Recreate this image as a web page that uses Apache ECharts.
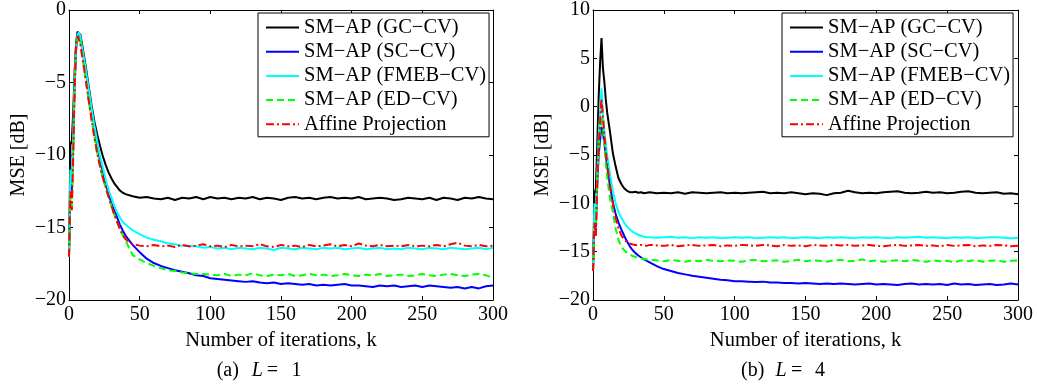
<!DOCTYPE html>
<html><head><meta charset="utf-8">
<script src="https://cdn.jsdelivr.net/npm/echarts@6/dist/echarts.min.js"></script>
<style>html,body{margin:0;padding:0;background:#fff}#c{width:1037px;height:387px}</style>
</head><body><div id="c"></div>
<script>
// iteration indices
var K = [0,1,2,3,4,5,6,7,8,9,10,
  12,14,16,18,20,22,24,26,28,30,32,34,36,38,40,
  45,50,55,60,65,70,75,80,85,90,95,100,105,
  110,115,120,125,130,135,140,145,150,155,160,165,170,
  175,180,185,190,195,200,205,210,215,220,225,230,235,
  240,245,250,255,260,265,270,275,280,285,290,295,300];
var seriesNames = ['SM\u2212AP (GC\u2212CV)','SM\u2212AP (SC\u2212CV)','SM\u2212AP (FMEB\u2212CV)','SM\u2212AP (ED\u2212CV)','Affine Projection'];
var xTicks = [0,50,100,150,200,250,300];
var yTicksL1 = [-20,-15,-10,-5,0];
var yTicksL4 = [-20,-15,-10,-5,0,5,10];

// (a) L = 1
var L1_GC = [-17.0,-9.3,-9.0,-7.0,-4.2,-2.3,-1.5,-1.4,-1.7,-2.2,-2.8,
  -4.0,-5.3,-6.6,-7.7,-8.6,-9.4,-10.1,-10.7,-11.2,-11.6,-11.95,-12.2,-12.45,-12.6,-12.7,
  -12.85,-12.95,-12.9,-13.0,-13.05,-12.95,-13.1,-12.95,-13.0,-12.9,-13.05,-12.9,-13.0,
  -12.95,-13.05,-12.95,-13.0,-12.9,-13.05,-12.95,-13.0,-13.1,-12.95,-12.9,-13.0,-12.95,
  -13.05,-12.95,-12.9,-13.0,-12.95,-13.0,-12.9,-13.05,-13.0,-12.95,-13.0,-13.1,-13.05,
  -12.95,-13.0,-13.05,-12.95,-13.1,-12.95,-13.0,-13.1,-12.95,-13.0,-12.9,-13.0,-13.05];
var L1_SC = [-17.0,-12.0,-12.5,-9.0,-5.0,-2.8,-1.8,-1.6,-1.9,-2.5,-3.1,
  -4.3,-5.6,-6.9,-8.1,-9.3,-10.4,-11.2,-12.0,-12.7,-13.3,-13.8,-14.3,-14.8,-15.2,-15.55,
  -16.2,-16.7,-17.15,-17.45,-17.65,-17.8,-17.95,-18.05,-18.15,-18.3,-18.35,-18.5,-18.55,
  -18.6,-18.65,-18.7,-18.75,-18.7,-18.8,-18.85,-18.8,-18.9,-18.85,-18.9,-18.95,-18.9,
  -19.0,-18.95,-19.0,-18.95,-18.9,-19.0,-19.0,-19.05,-19.1,-19.0,-19.05,-19.0,-19.1,
  -19.05,-19.0,-19.1,-19.0,-19.05,-19.1,-19.15,-19.1,-19.2,-19.1,-19.2,-19.05,-19.0];
var L1_FMEB = [-17.0,-11.0,-12.0,-8.5,-4.8,-2.6,-1.7,-1.55,-1.8,-2.4,-3.0,
  -4.2,-5.5,-6.8,-8.0,-9.1,-10.1,-10.9,-11.7,-12.4,-12.95,-13.5,-13.95,-14.3,-14.6,-14.8,
  -15.2,-15.45,-15.7,-15.85,-15.95,-16.1,-16.15,-16.25,-16.3,-16.3,-16.4,-16.35,-16.45,
  -16.4,-16.5,-16.4,-16.45,-16.5,-16.4,-16.45,-16.55,-16.4,-16.45,-16.5,-16.4,-16.45,
  -16.5,-16.4,-16.45,-16.4,-16.5,-16.45,-16.4,-16.5,-16.45,-16.4,-16.5,-16.45,-16.5,
  -16.4,-16.45,-16.5,-16.4,-16.45,-16.5,-16.4,-16.45,-16.5,-16.45,-16.4,-16.5,-16.4];
var L1_ED = [-17.0,-12.5,-13.5,-9.8,-5.3,-2.6,-1.8,-1.75,-2.2,-2.9,-3.6,
  -4.9,-6.3,-7.6,-8.8,-9.9,-10.8,-11.6,-12.3,-12.9,-13.5,-14.1,-14.6,-15.1,-15.5,-15.9,
  -16.9,-17.2,-17.45,-17.65,-17.8,-17.95,-18.0,-18.1,-18.15,-18.2,-18.2,-18.25,-18.3,
  -18.2,-18.35,-18.25,-18.3,-18.15,-18.3,-18.35,-18.25,-18.3,-18.2,-18.35,-18.3,-18.2,
  -18.3,-18.25,-18.35,-18.3,-18.2,-18.3,-18.35,-18.25,-18.3,-18.2,-18.35,-18.3,-18.25,
  -18.35,-18.3,-18.2,-18.3,-18.35,-18.25,-18.2,-18.3,-18.35,-18.25,-18.2,-18.3,-18.45];
var L1_AP = [-17.0,-12.5,-13.8,-10.0,-5.5,-2.5,-1.8,-1.8,-2.3,-3.0,-3.6,
  -4.9,-6.3,-7.6,-8.8,-9.9,-10.8,-11.6,-12.2,-12.9,-13.5,-14.1,-14.6,-15.1,-15.5,-15.8,
  -16.15,-16.25,-16.3,-16.2,-16.3,-16.25,-16.35,-16.2,-16.3,-16.25,-16.15,-16.3,-16.25,
  -16.35,-16.2,-16.3,-16.25,-16.3,-16.15,-16.3,-16.35,-16.2,-16.3,-16.25,-16.35,-16.2,
  -16.3,-16.25,-16.15,-16.3,-16.2,-16.3,-16.1,-16.25,-16.3,-16.2,-16.3,-16.25,-16.3,
  -16.2,-16.3,-16.25,-16.3,-16.2,-16.3,-16.15,-16.05,-16.25,-16.3,-16.2,-16.3,-16.25];

// (b) L = 4
var L4_GC = [-17.0,-9.0,-8.5,-4.0,1.0,4.5,7.1,4.0,2.6,0.8,-0.6,
  -2.6,-4.8,-6.2,-7.4,-8.0,-8.45,-8.7,-8.85,-8.85,-8.8,-8.9,-8.85,-8.95,-8.9,-8.85,
  -8.95,-8.9,-8.95,-8.85,-9.0,-8.85,-8.9,-8.95,-8.9,-8.85,-8.95,-8.9,-8.95,
  -8.9,-8.85,-8.8,-8.95,-8.9,-8.95,-8.85,-8.95,-9.05,-8.95,-9.0,-9.15,-8.95,
  -8.9,-8.7,-8.85,-8.95,-8.9,-8.95,-8.85,-8.8,-8.75,-8.9,-8.95,-8.9,-8.8,
  -8.9,-8.85,-8.95,-8.9,-8.8,-8.75,-8.9,-8.95,-8.9,-8.85,-9.0,-8.95,-9.05];
var L4_SC = [-17.0,-11.0,-12.5,-8.0,-5.0,-3.5,-2.1,-2.6,-3.8,-5.0,-6.2,
  -8.2,-9.9,-11.1,-12.0,-12.7,-13.35,-13.95,-14.45,-14.85,-15.15,-15.4,-15.6,-15.8,-15.95,-16.1,
  -16.5,-16.8,-17.0,-17.2,-17.35,-17.5,-17.6,-17.7,-17.8,-17.9,-17.95,-18.05,-18.05,
  -18.1,-18.15,-18.1,-18.2,-18.2,-18.25,-18.25,-18.3,-18.25,-18.3,-18.35,-18.3,-18.35,
  -18.3,-18.35,-18.4,-18.35,-18.3,-18.4,-18.35,-18.4,-18.45,-18.35,-18.3,-18.4,-18.35,
  -18.4,-18.35,-18.45,-18.3,-18.4,-18.35,-18.45,-18.4,-18.35,-18.45,-18.4,-18.3,-18.4];
var L4_FMEB = [-17.0,-10.0,-12.0,-7.0,-3.0,-0.5,1.9,-1.0,-2.5,-3.8,-5.0,
  -7.0,-8.7,-10.0,-10.9,-11.5,-12.0,-12.4,-12.7,-12.95,-13.1,-13.25,-13.35,-13.45,-13.5,-13.5,
  -13.55,-13.5,-13.45,-13.55,-13.5,-13.6,-13.5,-13.55,-13.5,-13.6,-13.55,-13.5,-13.55,
  -13.5,-13.6,-13.55,-13.5,-13.55,-13.5,-13.6,-13.55,-13.5,-13.55,-13.6,-13.5,-13.55,
  -13.5,-13.55,-13.6,-13.5,-13.55,-13.5,-13.55,-13.6,-13.5,-13.55,-13.5,-13.45,-13.55,
  -13.5,-13.55,-13.6,-13.5,-13.55,-13.5,-13.6,-13.55,-13.5,-13.5,-13.55,-13.6,-13.55];
var L4_ED = [-17.0,-12.0,-13.0,-8.0,-4.5,-2.5,-1.0,-2.0,-4.0,-5.8,-7.3,
  -9.5,-10.9,-12.6,-13.8,-14.5,-14.85,-15.1,-15.3,-15.45,-15.55,-15.65,-15.7,-15.75,-15.8,-15.85,
  -15.9,-16.0,-15.85,-15.95,-16.05,-15.9,-16.0,-15.85,-15.95,-16.0,-15.9,-15.95,-16.05,
  -15.9,-15.85,-16.0,-15.95,-15.9,-16.05,-15.95,-15.85,-16.0,-15.9,-15.95,-16.05,-15.9,
  -15.85,-16.0,-15.95,-15.8,-16.0,-15.9,-16.05,-15.95,-15.9,-16.0,-15.85,-15.95,-16.05,
  -15.9,-16.0,-15.95,-16.1,-15.9,-16.0,-15.85,-16.05,-15.95,-15.9,-16.05,-15.95,-15.9];
var L4_AP = [-17.0,-12.0,-13.5,-8.0,-4.0,-1.5,0.85,-1.0,-2.8,-4.6,-5.8,
  -8.2,-10.0,-11.5,-12.6,-13.3,-13.75,-14.0,-14.15,-14.25,-14.3,-14.35,-14.3,-14.35,-14.4,-14.3,
  -14.35,-14.4,-14.3,-14.45,-14.35,-14.3,-14.4,-14.35,-14.3,-14.45,-14.35,-14.4,-14.3,
  -14.35,-14.4,-14.3,-14.35,-14.45,-14.3,-14.4,-14.35,-14.45,-14.3,-14.35,-14.4,-14.3,
  -14.35,-14.3,-14.4,-14.35,-14.3,-14.4,-14.45,-14.35,-14.3,-14.4,-14.35,-14.3,-14.4,
  -14.35,-14.45,-14.3,-14.4,-14.35,-14.3,-14.45,-14.35,-14.4,-14.3,-14.35,-14.45,-14.4];

var colors = ['#000000','#0000ff','#00ffff','#00ff00','#ff0000'];
var dashes = ['solid','solid','solid',[7,4],[8,3,2,3]];
var FONT = '"Liberation Serif","Times New Roman",serif';

function fmt(v){ return v < 0 ? '\u2212' + Math.abs(v) : String(v); }
function xAx(gi, pos, lbl){
  return {type:'value', gridIndex:gi, position:pos, min:0, max:300, interval:50,
    axisLine:{show:true, onZero:false, lineStyle:{color:'#000', width:1}},
    axisTick:{show:true, inside:true, length:4, lineStyle:{color:'#000'}},
    axisLabel:{show:lbl, margin:5, color:'#000', fontFamily:FONT, fontSize:20, formatter:fmt},
    splitLine:{show:false},
    name: lbl ? 'Number of iterations, k' : '', nameLocation:'middle', nameGap:25,
    nameTextStyle:{color:'#000', fontFamily:FONT, fontSize:20.5}};
}
function yAx(gi, pos, lbl, mn, mx){
  return {type:'value', gridIndex:gi, position:pos, min:mn, max:mx, interval:5,
    axisLine:{show:true, onZero:false, lineStyle:{color:'#000', width:1}},
    axisTick:{show:true, inside:true, length:4, lineStyle:{color:'#000'}},
    axisLabel:{show:lbl, margin:3, color:'#000', fontFamily:FONT, fontSize:20, formatter:fmt},
    splitLine:{show:false},
    name: lbl ? 'MSE [dB]' : '', nameLocation:'middle', nameGap:40,
    nameTextStyle:{color:'#000', fontFamily:FONT, fontSize:20}};
}
function mk(arr){ return K.map(function(k,i){ return [k, arr[i]]; }); }
var L1 = [L1_GC,L1_SC,L1_FMEB,L1_ED,L1_AP];
var L4 = [L4_GC,L4_SC,L4_FMEB,L4_ED,L4_AP];
var series = [];
[L1, L4].forEach(function(set, p){
  set.forEach(function(arr, i){
    series.push({type:'line', name:seriesNames[i], xAxisIndex:p*2, yAxisIndex:p*2,
      data:mk(arr), symbol:'none', showSymbol:false, smooth:false,
      lineStyle:{color:colors[i], width:2, type:dashes[i]}, itemStyle:{color:colors[i]}, z:2+i});
  });
});
function legend(left){
  return {left:left, top:13, orient:'vertical', data:seriesNames,
    backgroundColor:'#fff', borderColor:'#000', borderWidth:1,
    padding:[4,3,2,7], itemGap:3.2, itemWidth:33, itemHeight:12,
    selectedMode:false,
    itemStyle:{color:'rgba(0,0,0,0)', borderColor:'rgba(0,0,0,0)', borderWidth:0},
    textStyle:{color:'#000', fontFamily:FONT, fontSize:20.5, lineHeight:20}};
}
function txt(x, t, italic){
  return {type:'text', x:x, y:371, style:{text:t, fill:'#000',
    font:(italic?'italic ':'') + '20px ' + FONT, verticalAlign:'middle'}};
}
var chart = echarts.init(document.getElementById('c'), null, {renderer:'canvas'});
chart.setOption({
  animation:false,
  backgroundColor:'#fff',
  grid:[{left:69, top:7, width:424, height:293},{left:593, top:7, width:425, height:293}],
  xAxis:[xAx(0,'bottom',true), xAx(0,'top',false), xAx(1,'bottom',true), xAx(1,'top',false)],
  yAxis:[yAx(0,'left',true,-20,0), yAx(0,'right',false,-20,0), yAx(1,'left',true,-20,10), yAx(1,'right',false,-20,10)],
  legend:[legend(258), legend(782)],
  series:series,
  graphic:[txt(216.7,'(a)'), txt(251.7,'L',true), txt(266.7,'='), txt(291.5,'1'),
           txt(741,'(b)'), txt(775.5,'L',true), txt(791,'='), txt(815,'4')]
});
</script></body></html>
